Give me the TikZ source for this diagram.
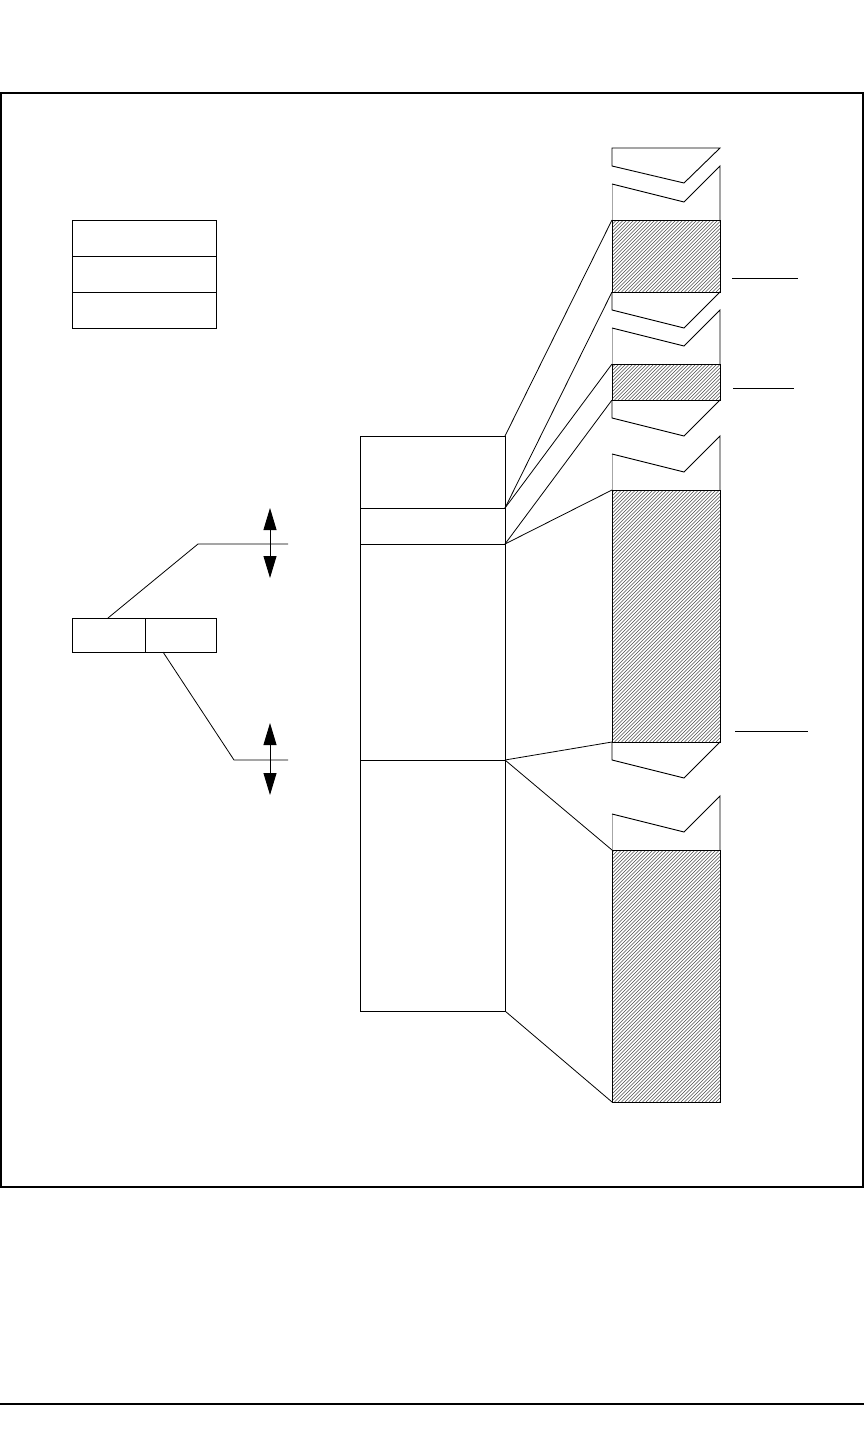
\documentclass[tikz,border=0pt]{standalone}
\usetikzlibrary{arrows.meta}
\newcommand\myhatch[2]{% y top, y bottom ; x from 612 to 720
  \begin{scope}
    \clip (612,#1) rectangle (720,#2);
    \pgfmathsetmacro\hh{#2-#1}
    \foreach \d in {-260,-256.5,...,110} {
      \draw[line width=0.45bp,black!70] (612+\d,#2) -- ++(\hh,-\hh);
    }
  \end{scope}
  \draw[line width=0.9bp] (612,#1) rectangle (720,#2);
}
\begin{document}
\begin{tikzpicture}[x=1bp,y=-1bp,line join=miter,
  ln/.style={line width=0.9bp},
  brk/.style={ln,fill=white},
  edge/.style={line width=0.9bp,gray!70},
  dbl/.style={line width=0.9bp,{Triangle[length=22bp,width=13bp]}-{Triangle[length=22bp,width=13bp]}},
  conn/.style={line width=0.8bp}]
\useasboundingbox (0,0) rectangle (864,1439);
% frame and bottom rule
\draw[line width=2bp] (1.3,93) rectangle (862.5,1187);
\draw[line width=1.3bp] (0,1404) -- (864,1404);

% legend stack
\draw[ln] (72,220) rectangle (216,256);
\draw[ln] (72,256) rectangle (216,292);
\draw[ln] (72,292) rectangle (216,328);

% small split box
\draw[ln] (72,618) rectangle (216,652);
\draw[ln] (145,618) -- (145,652);
\coordinate (sa) at (108,618);
\coordinate (sb) at (163,652);
\coordinate (ka) at (198,544);
\coordinate (ea) at (288,544);
\coordinate (kb) at (234,760);
\coordinate (eb) at (288,760);
\draw[conn] (sa) -- (ka) -- (ea);
\draw[conn] (sb) -- (kb) -- (eb);
\coordinate (a1t) at (270,508); \coordinate (a1b) at (270,578);
\coordinate (a2t) at (270,723); \coordinate (a2b) at (270,795);
\draw[dbl] (a1t) -- (a1b);
\draw[dbl] (a2t) -- (a2b);

% middle column
\draw[ln] (360,436) rectangle (505,1011);
\draw[ln] (360,508) -- (505,508);
\draw[ln] (360,544) -- (505,544);
\draw[ln] (360,760) -- (505,760);
\coordinate (m1) at (505,436);
\coordinate (m2) at (505,508);
\coordinate (m3) at (505,544);
\coordinate (m4) at (505,760);
\coordinate (m5) at (505,1011);

% right column: break pieces
\draw[brk] (612,148) -- (720,148) -- (684,183) -- (612,166) -- cycle;
\draw[edge] (612,184) -- (612,220);
\draw[ln] (612,184) -- (684,202) -- (720,166) -- (720,220);
\myhatch{220}{292}
\draw[ln] (612,292) -- (612,310) -- (684,328) -- (720,292);
\draw[edge] (612,328) -- (612,364);
\draw[ln] (612,328) -- (684,346) -- (720,310) -- (720,364);
\myhatch{364}{400}
\draw[ln] (612,400) -- (612,418) -- (684,436) -- (720,400);
\draw[edge] (612,454) -- (612,490);
\draw[ln] (612,454) -- (684,472) -- (720,436) -- (720,490);
\myhatch{490}{742}
\draw[ln] (612,742) -- (612,760) -- (684,778) -- (720,742);
\draw[edge] (612,814) -- (612,850);
\draw[ln] (612,814) -- (684,832) -- (720,796) -- (720,850);
\myhatch{850}{1102}
\coordinate (r1) at (612,220);
\coordinate (r2) at (612,292);
\coordinate (r3) at (612,364);
\coordinate (r4) at (612,400);
\coordinate (r5) at (612,490);
\coordinate (r6) at (612,742);
\coordinate (r7) at (612,850);
\coordinate (r8) at (612,1102);

% connectors
\draw[conn] (m1) -- (r1);
\draw[conn] (m2) -- (r2);
\draw[conn] (m2) -- (r3);
\draw[conn] (m3) -- (r4);
\draw[conn] (m3) -- (r5);
\draw[conn] (m4) -- (r6);
\draw[conn] (m4) -- (r7);
\draw[conn] (m5) -- (r8);

% label leader lines
\draw[conn] (732,278) -- (798,278);
\draw[conn] (733,388) -- (794,388);
\draw[conn] (735,731) -- (808,731);
\end{tikzpicture}
\end{document}
